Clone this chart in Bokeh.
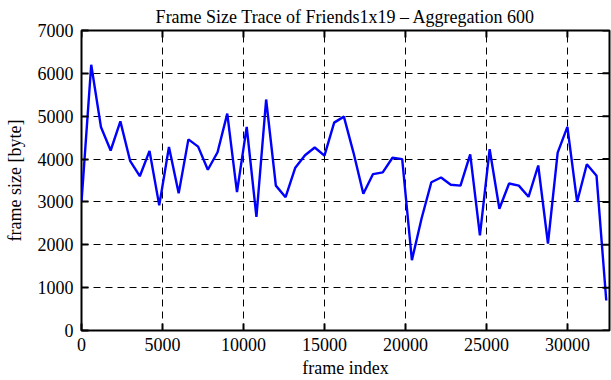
import math
from bokeh.plotting import figure
from bokeh.models import Range1d, FixedTicker
from bokeh.embed import file_html
from bokeh.resources import INLINE

frame_index = [0, 600, 1200, 1800, 2400, 3000, 3600, 4200, 4800, 5400,
               6000, 6600, 7200, 7800, 8400, 9000, 9600, 10200, 10800, 11400,
               12000, 12600, 13200, 13800, 14400, 15000, 15600, 16200, 16800, 17400,
               18000, 18600, 19200, 19800, 20400, 21000, 21600, 22200, 22800, 23400,
               24000, 24600, 25200, 25800, 26400, 27000, 27600, 28200, 28800, 29400,
               30000, 30600, 31200, 31800, 32400]
frame_size = [3000, 6200, 4750, 4200, 4880, 3960, 3600, 4190, 2920, 4280,
              3200, 4460, 4290, 3750, 4160, 5060, 3230, 4750, 2650, 5390,
              3380, 3110, 3800, 4090, 4270, 4080, 4850, 4990, 4140, 3190,
              3650, 3690, 4030, 4000, 1640, 2620, 3460, 3570, 3400, 3380,
              4110, 2220, 4230, 2840, 3430, 3380, 3120, 3850, 2030, 4150,
              4750, 3000, 3880, 3610, 700]
x_ticks = [0, 5000, 10000, 15000, 20000, 25000, 30000]
y_ticks = [0, 1000, 2000, 3000, 4000, 5000, 6000, 7000]
x_min, x_max = 0, 32600
y_min, y_max = 0, 7000

FONT = "Liberation Serif"

p = figure(width=611, height=380, output_backend="svg", toolbar_location=None,
           x_range=Range1d(x_min, x_max), y_range=Range1d(y_min, y_max),
           min_border_left=81, min_border_right=2, min_border_top=30, min_border_bottom=50)

p.title.text = "Frame Size Trace of Friends1x19 \u2013 Aggregation 600"
p.title.align = "center"
p.title.text_font = FONT
p.title.text_font_size = "18px"
p.title.text_font_style = "normal"
p.title.text_color = "black"
p.title.standoff = 8
p.title.offset = 0

p.line(frame_index, frame_size, line_color="#0000ff", line_width=2.4)

p.outline_line_color = "black"
p.outline_line_width = 2
p.outline_line_alpha = 1

for g, t in ((p.xgrid, x_ticks), (p.ygrid, y_ticks)):
    g.ticker = FixedTicker(ticks=t)
    g.grid_line_color = "black"
    g.grid_line_dash = "7 5"
    g.grid_line_width = 1

def style(ax, ticks):
    ax.ticker = FixedTicker(ticks=ticks)
    ax.axis_line_color = None
    ax.major_tick_in = 7
    ax.major_tick_out = 0
    ax.major_tick_line_width = 2
    ax.major_tick_line_color = "black"
    ax.minor_tick_line_color = None
    ax.major_label_text_font = FONT
    ax.major_label_text_font_size = "18px"
    ax.major_label_text_color = "black"
    ax.axis_label_text_font = FONT
    ax.axis_label_text_font_size = "18px"
    ax.axis_label_text_font_style = "normal"
    ax.axis_label_text_color = "black"

style(p.xaxis[0], x_ticks)
style(p.yaxis[0], y_ticks)
p.xaxis[0].axis_label = "frame index"
p.yaxis[0].axis_label = "frame size [byte]"
p.xaxis[0].major_label_standoff = 7
p.yaxis[0].major_label_standoff = 8
p.xaxis[0].axis_label_standoff = 4
p.yaxis[0].axis_label_standoff = 10

# mirrored ticks on the right and top edges
p.ray(x=[x_max] * len(y_ticks), y=y_ticks, length=7, length_units="screen",
      angle=math.pi, line_color="black", line_width=2)
p.ray(x=x_ticks, y=[y_max] * len(x_ticks), length=7, length_units="screen",
      angle=-math.pi / 2, line_color="black", line_width=2)

open("out.html", "w").write(file_html(p, INLINE))
